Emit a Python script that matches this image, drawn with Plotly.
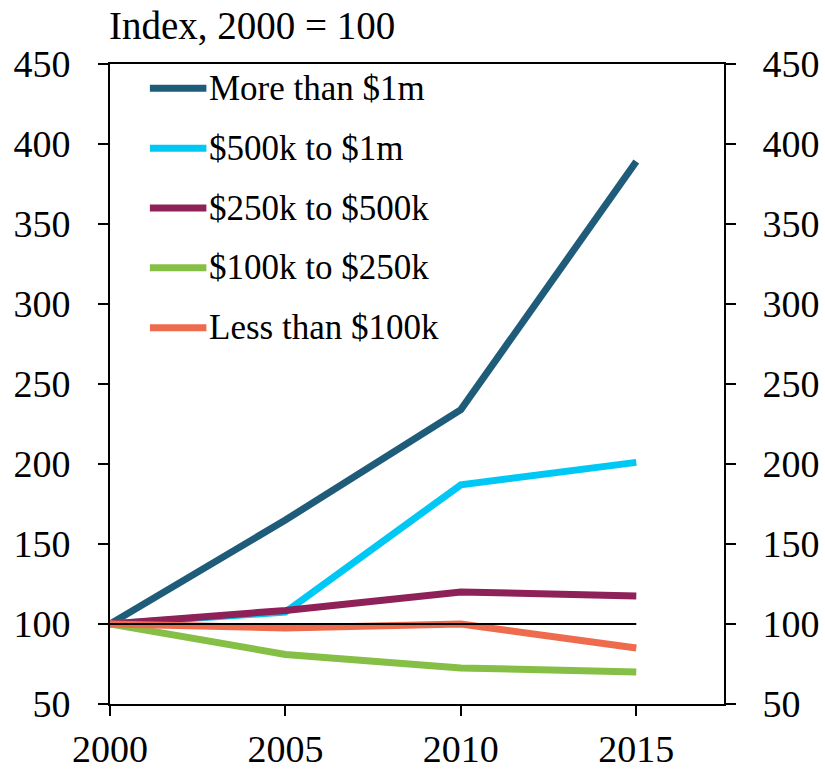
import plotly.graph_objects as go

# Index of household net worth by band, 2000 = 100
years = [2000, 2005, 2010, 2015]
more_than_1m = [100, 165, 234, 389]
from_500k_to_1m = [100, 107.5, 187, 201]
from_250k_to_500k = [100, 108.5, 120, 117.5]
from_100k_to_250k = [100, 81, 72.5, 70]
less_than_100k = [100, 97.5, 100, 85]

series_names = ["More than $1m", "$500k to $1m", "$250k to $500k",
                "$100k to $250k", "Less than $100k"]
series_values = [more_than_1m, from_500k_to_1m, from_250k_to_500k,
                 from_100k_to_250k, less_than_100k]
series_colors = ["#1F5C7A", "#00C8F5", "#8E2157", "#86BF45", "#EE6B4D"]

y_ticks = [50, 100, 150, 200, 250, 300, 350, 400, 450]
x_ticks = [2000, 2005, 2010, 2015]
baseline = 100

FONT = "Liberation Serif"
TICK_FS = 38
LEGEND_FS = 35
TITLE_FS = 39

fig = go.Figure()
for name, vals, col in zip(series_names, series_values, series_colors):
    fig.add_trace(go.Scatter(x=years, y=vals, name=name, mode="lines",
                             line=dict(color=col, width=7),
                             showlegend=False, yaxis="y"))

# reference line at the base year level
fig.add_trace(go.Scatter(x=[years[0], years[-1]], y=[baseline, baseline],
                         mode="lines", line=dict(color="black", width=2),
                         showlegend=False, hoverinfo="skip"))

# invisible trace to carry the right-hand axis
fig.add_trace(go.Scatter(x=[years[0]], y=[baseline], yaxis="y2",
                         mode="markers", marker=dict(opacity=0),
                         showlegend=False, hoverinfo="skip"))

# legend drawn as line samples with labels, in paper coordinates
legend_top = 0.962
legend_step = 0.0935
for i, (name, col) in enumerate(zip(series_names, series_colors)):
    yy = legend_top - i * legend_step
    fig.add_shape(type="line", xref="paper", yref="paper",
                  x0=0.065, x1=0.157, y0=yy, y1=yy,
                  line=dict(color=col, width=7))
    fig.add_annotation(x=0.158, y=yy, xref="paper", yref="paper",
                       text=name, showarrow=False, xanchor="left",
                       yanchor="middle",
                       font=dict(family=FONT, size=LEGEND_FS, color="black"))

fig.add_annotation(x=-0.005, y=1.0, xref="paper", yref="paper",
                   text="Index, 2000 = 100", showarrow=False,
                   xanchor="left", yanchor="bottom", yshift=15,
                   font=dict(family=FONT, size=TITLE_FS, color="black"))

axis_common = dict(showgrid=False, zeroline=False, showline=True,
                   linecolor="black", linewidth=2, ticks="outside",
                   ticklen=10, tickwidth=2, tickcolor="black",
                   automargin=False,
                   tickfont=dict(family=FONT, size=TICK_FS, color="black"))

fig.update_layout(
    width=825, height=771,
    margin=dict(l=110, r=101, t=64, b=67),
    paper_bgcolor="white", plot_bgcolor="white",
    showlegend=False,
    xaxis=dict(range=[2000, 2017.5], tickvals=x_ticks, mirror=True,
               ticklabelstandoff=0, **axis_common),
    yaxis=dict(range=[50, 450], tickvals=y_ticks, ticklabelstandoff=20,
               **axis_common),
    yaxis2=dict(range=[50, 450], tickvals=y_ticks, overlaying="y",
                side="right", ticklabelstandoff=19, **axis_common),
)

fig.write_html("out.html")
